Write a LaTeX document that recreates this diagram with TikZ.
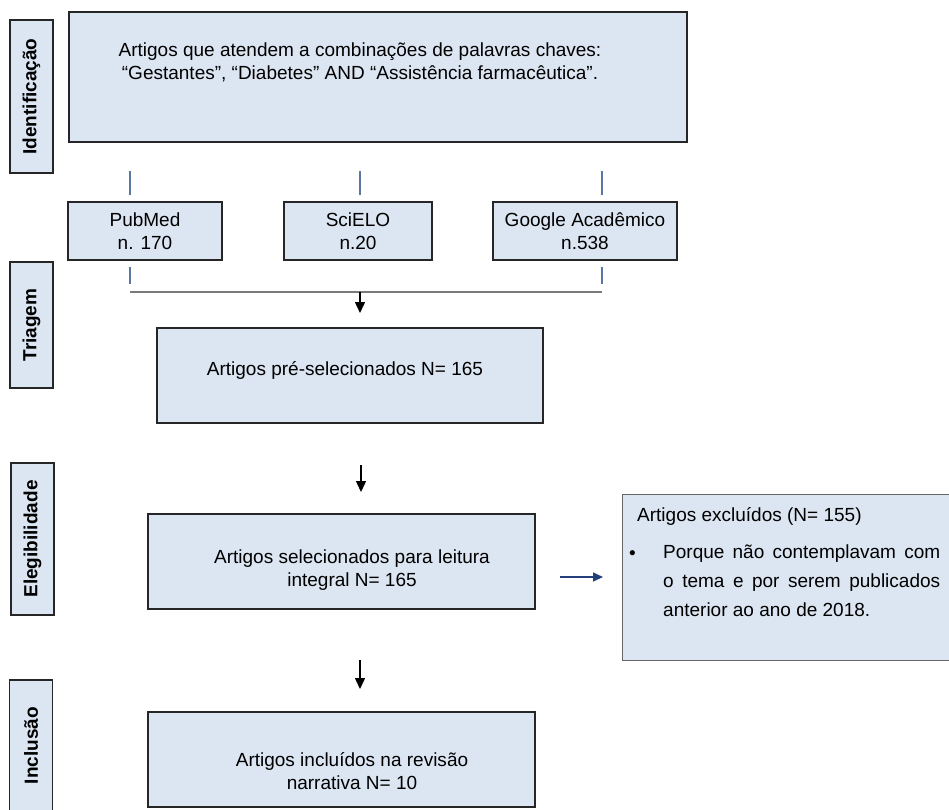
\documentclass[tikz,border=0pt]{standalone}
\usepackage{fontspec}
\setmainfont{Liberation Sans}
\usepackage{tikz}
\usetikzlibrary{arrows.meta,positioning}
\definecolor{boxblue}{HTML}{DCE6F2}
\definecolor{tickblue}{HTML}{5B76A3}
\definecolor{linegray}{HTML}{7A7A7A}
\definecolor{navyarrow}{HTML}{24407A}
\tikzset{
  fluxbox/.style={draw=black!85, fill=boxblue, line width=1.4pt, inner sep=0pt},
  fluxtext/.style={align=center, inner sep=0pt, font=\fontsize{19}{23}\selectfont},
  exclbox/.style={draw=black!60, fill=boxblue, line width=1.4pt, inner sep=0pt},
  excltext/.style={inner sep=0pt, font=\fontsize{19}{29}\selectfont},
  stagebox/.style={draw=black!85, fill=boxblue, line width=1.5pt, rotate=90, minimum height=43pt, inner sep=0pt, font=\fontsize{19}{23}\selectfont\bfseries},
  fluxarrow/.style={-{Triangle[length=11pt,width=10pt]}, line width=1.4pt, black},
  sidearrow/.style={-{Triangle[length=10pt,width=9pt]}, line width=1.4pt, navyarrow},
  tickline/.style={line width=1.1pt, tickblue},
  joinline/.style={line width=1.5pt, linegray}
}

\begin{document}
\begin{tikzpicture}[x=1pt, y=-1pt]
  \useasboundingbox (0,0) rectangle (949,809);

  % etapas
  \node[stagebox, minimum width=153pt] (sident) at (31.5,96.5) {Identificação};
  \node[stagebox, minimum width=126pt] (striag) at (31.5,325) {Triagem};
  \node[stagebox, minimum width=152pt] (seleg) at (32.5,539) {Elegibilidade};
  \node[stagebox, minimum width=131pt] (sincl) at (31,745.5) {Inclusão};

  % identificacao
  \node[fluxbox, minimum width=618pt, minimum height=130pt] (busca) at (378,77) {};
  \node[fluxtext] (buscatxt) at (360,62) {Artigos que atendem a combinações de palavras chaves:\\“Gestantes”, “Diabetes” AND “Assistência farmacêutica”.};

  \node[fluxbox, minimum width=154pt, minimum height=58pt, fluxtext] (pubmed) at (145,231) {PubMed\\n. 170};
  \node[fluxbox, minimum width=148pt, minimum height=58pt, fluxtext] (scielo) at (358,231) {SciELO\\n.20};
  \node[fluxbox, minimum width=184pt, minimum height=58pt, fluxtext] (google) at (585,231) {Google Acadêmico\\n.538};

  \coordinate (t1a) at (130,171); \coordinate (t1b) at (130,195);
  \coordinate (t2a) at (360,171); \coordinate (t2b) at (360,195);
  \coordinate (t3a) at (602,171); \coordinate (t3b) at (602,195);
  \coordinate (b1a) at (130,267); \coordinate (b1b) at (130,284);
  \coordinate (b3a) at (602,267); \coordinate (b3b) at (602,284);
  \coordinate (jleft) at (130,292);
  \coordinate (jright) at (602,292);
  \coordinate (jmid) at (360,292);
  \coordinate (a1e) at (360,313);

  \foreach \s/\e in {t1a/t1b, t2a/t2b, t3a/t3b, b1a/b1b, b3a/b3b}
    \draw[tickline] (\s) -- (\e);
  \draw[joinline] (jleft) -- (jright);
  \draw[fluxarrow] (jmid) -- (a1e);

  % triagem
  \node[fluxbox, minimum width=386pt, minimum height=95pt] (presel) at (350,375.5) {};
  \node[fluxtext] (preseltxt) at (345,370) {Artigos pré-selecionados N= 165};

  \coordinate (a2s) at (361,465);
  \coordinate (a2e) at (361,492);
  \draw[fluxarrow] (a2s) -- (a2e);

  % elegibilidade
  \node[fluxbox, minimum width=387pt, minimum height=95pt] (sel) at (341.5,561.5) {};
  \node[fluxtext] (seltxt) at (352,570) {Artigos selecionados para leitura\\integral N= 165};

  \coordinate (a3s) at (560,577);
  \coordinate (a3e) at (603,577);
  \draw[sidearrow] (a3s) -- (a3e);

  \node[exclbox, anchor=north west, minimum width=340pt, minimum height=166pt] (excl) at (622,494) {};
  \node[excltext, anchor=base west] (exclhead) at (637,521) {Artigos excluídos (N= 155)};
  \node[excltext, anchor=base west] (exclbullet) at (629,559) {\textbullet};
  \node[excltext, anchor=north west, align=left] (excllist) at (663,545) {\makebox[277pt][s]{Porque não contemplavam com}\\\makebox[277pt][s]{o tema e por serem publicados}\\anterior ao ano de 2018.};

  \coordinate (a4s) at (360,660);
  \coordinate (a4e) at (360,689);
  \draw[fluxarrow] (a4s) -- (a4e);

  % inclusao
  \node[fluxbox, minimum width=387pt, minimum height=95pt] (incl) at (341.5,759.5) {};
  \node[fluxtext] (incltxt) at (352,771) {Artigos incluídos na revisão\\narrativa N= 10};
\end{tikzpicture}
\end{document}
